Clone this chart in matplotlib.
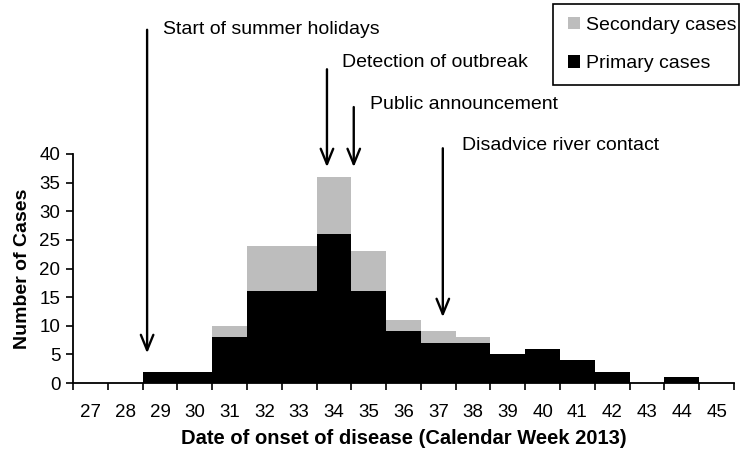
import numpy as np
import matplotlib
matplotlib.use("Agg")
import matplotlib.pyplot as plt
from matplotlib.patches import Patch, Rectangle

plt.rcParams['font.family'] = ['Liberation Sans', 'DejaVu Sans']

weeks = list(range(27, 46))
primary = [0, 0, 2, 2, 8, 16, 16, 26, 16, 9, 7, 7, 5, 6, 4, 2, 0, 1, 0]
secondary = [0, 0, 0, 0, 2, 8, 8, 10, 7, 2, 2, 1, 0, 0, 0, 0, 0, 0, 0]

events = ["Start of summer holidays", "Detection of outbreak",
          "Public announcement", "Disadvice river contact"]
event_x = [28.63, 33.80, 34.57, 37.13]   # week position of each arrow

fig = plt.figure(figsize=(7.43, 4.49), dpi=100)
ax = fig.add_axes([73/743, 1 - 383/449, (734 - 73)/743, (383 - 154)/449])

ax.bar(weeks, primary, width=1.0, color='black', linewidth=0)
ax.bar(weeks, secondary, width=1.0, bottom=primary, color='#bdbdbd', linewidth=0)

ax.set_xlim(26.5, 45.5)
ax.set_ylim(0, 40)
ax.set_yticks(range(0, 41, 5))
ax.set_xticks(weeks)
ax.set_xticks(np.arange(26.5, 46, 1), minor=True)
ax.tick_params(axis='x', which='major', length=0, pad=15, labelsize=13.5)
ax.tick_params(axis='x', which='minor', length=5, width=1.2, direction='out')
ax.tick_params(axis='y', length=5, width=1.2, labelsize=13.5, pad=4)
for s in ['top', 'right']:
    ax.spines[s].set_visible(False)
for s in ['left', 'bottom']:
    ax.spines[s].set_linewidth(1.3)

ax.set_ylabel("Number of Cases", fontsize=14, fontweight='bold', labelpad=6)
ax.set_xlabel("Date of onset of disease (Calendar Week 2013)", fontsize=14.5,
              fontweight='bold', labelpad=6)

# arrows: (top, tip) in data units, text anchor
arrow_top = [61.7, 54.8, 48.2, 41.0]
arrow_tip = [5.2, 37.7, 37.7, 11.5]
text_pos = [(29.09, 61.7), (34.23, 55.9), (35.03, 48.6), (37.68, 41.4)]
for name, x, top, tip, (tx, ty) in zip(events, event_x, arrow_top, arrow_tip, text_pos):
    ax.annotate('', xy=(x, tip), xytext=(x, top), annotation_clip=False,
                arrowprops=dict(arrowstyle='->,head_length=1.1,head_width=0.45',
                                lw=1.7, color='black', shrinkA=0, shrinkB=0))
    ax.text(tx, ty, name, fontsize=14, ha='left', va='center', clip_on=False)

handles = [Patch(facecolor='#bdbdbd', label='Secondary cases'),
           Patch(facecolor='black', label='Primary cases')]
# legend text sits tight against the right border, so draw the frame separately
leg = fig.legend(handles=handles, loc='upper right',
                 bbox_to_anchor=(736/743, 1 - 17/449), fontsize=14,
                 frameon=False, handlelength=0.6, handleheight=0.6,
                 handletextpad=0.3, labelspacing=1.1, borderpad=0,
                 borderaxespad=0)
fig.patches.append(Rectangle((553/743, 1 - 85/449), (739 - 553)/743, 81/449,
                             transform=fig.transFigure, fill=False,
                             edgecolor='black', linewidth=1.2))

fig.savefig("out.png", dpi=100)
